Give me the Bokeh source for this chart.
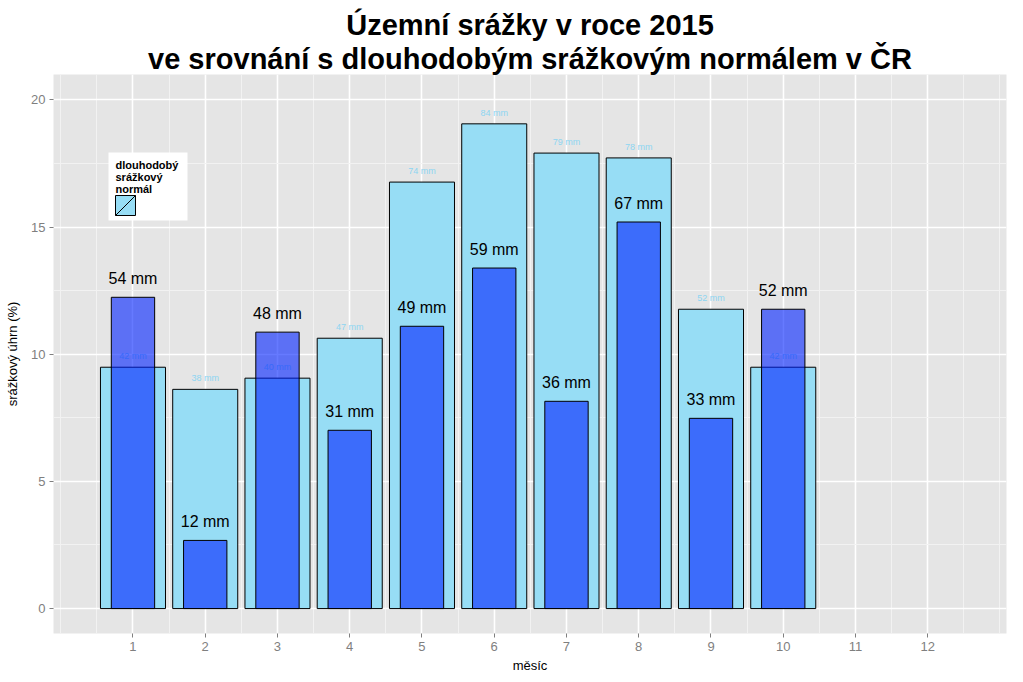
from bokeh.plotting import figure
from bokeh.models import ColumnDataSource, Range1d, FixedTicker, Title
from bokeh.core.properties import value
from bokeh.embed import file_html
from bokeh.resources import INLINE

# ---- data ----
months = [1, 2, 3, 4, 5, 6, 7, 8, 9, 10]
normal_pct = [9.49, 8.62, 9.06, 10.63, 16.77, 19.06, 17.91, 17.72, 11.77, 9.49]
normal_lbl = ["42 mm", "38 mm", "40 mm", "47 mm", "74 mm", "84 mm", "79 mm", "78 mm", "52 mm", "42 mm"]
y2015_pct = [12.24, 2.68, 10.87, 7.01, 11.10, 13.39, 8.15, 15.20, 7.48, 11.77]
y2015_lbl = ["54 mm", "12 mm", "48 mm", "31 mm", "49 mm", "59 mm", "36 mm", "67 mm", "33 mm", "52 mm"]
x_ticks = list(range(1, 13))
y_ticks = [0, 5, 10, 15, 20]
legend_title = ["dlouhodobý", "srážkový", "normál"]
title_lines = ["Územní srážky v roce 2015",
               "ve srovnání s dlouhodobým srážkovým normálem v ČR"]

FONT = "Liberation Sans"
LIGHT = "#97DDF5"
DARK = "#0022FF"

XR = (-0.1, 13.09)
YR = (-0.98, 21.0)
W, H = 1023, 682
BL, BR, BT, BB = 53, 17, 74, 49
FW, FH = W - BL - BR, H - BT - BB


def dx(px):  # screen px -> data x (for legend placement only)
    return XR[0] + (px - BL) / FW * (XR[1] - XR[0])


def dy(py):  # screen px -> data y (for legend placement only)
    return YR[0] + (BT + FH - py) / FH * (YR[1] - YR[0])


src_n = ColumnDataSource(dict(x=months, top=normal_pct, lbl=normal_lbl))
src_y = ColumnDataSource(dict(x=months, top=y2015_pct, lbl=y2015_lbl))

p = figure(width=W, height=H, output_backend="svg", toolbar_location=None,
           x_range=Range1d(*XR), y_range=Range1d(*YR),
           min_border_left=BL, min_border_right=BR, min_border_top=BT, min_border_bottom=BB)
p.title = None
p.outline_line_color = None
p.background_fill_color = "#E5E5E5"
p.border_fill_color = "white"

# grids
minor_x = [0] + [m + 0.5 for m in range(0, 13)] + [13]
p.xgrid.ticker = FixedTicker(ticks=x_ticks, minor_ticks=minor_x)
p.ygrid.ticker = FixedTicker(ticks=y_ticks, minor_ticks=[2.5, 7.5, 12.5, 17.5])
for g in (p.xgrid, p.ygrid):
    g.grid_line_color = "white"
    g.grid_line_width = 1.6
    g.minor_grid_line_color = "#F2F2F2"
    g.minor_grid_line_width = 1

# axes
p.xaxis.ticker = FixedTicker(ticks=x_ticks)
p.yaxis.ticker = FixedTicker(ticks=y_ticks)
for ax in (p.xaxis, p.yaxis):
    ax.axis_line_color = None
    ax.major_tick_line_color = "#7F7F7F"
    ax.major_tick_out = 4
    ax.major_tick_in = 0
    ax.minor_tick_line_color = None
    ax.major_label_text_color = "#7F7F7F"
    ax.major_label_text_font = FONT
    ax.major_label_text_font_size = "13px"
    ax.axis_label_text_font = FONT
    ax.axis_label_text_font_size = "13px"
    ax.axis_label_text_font_style = "normal"
    ax.axis_label_text_color = "black"
p.xaxis.axis_label = "měsíc"
p.yaxis.axis_label = "srážkový úhrn (%)"
p.xaxis.major_label_standoff = 4
p.xaxis.axis_label_standoff = 4
p.yaxis.major_label_standoff = 4
p.yaxis.axis_label_standoff = 8

# bars
p.vbar(x="x", top="top", bottom=0, width=0.9, source=src_n,
       fill_color=LIGHT, line_color="black", line_width=1)
p.text(x="x", y="top", text="lbl", source=src_n, y_offset=-11,
       text_align="center", text_baseline="middle", text_color="#8DD5F2",
       text_font=value(FONT), text_font_size="9px")
p.vbar(x="x", top="top", bottom=0, width=0.6, source=src_y,
       fill_color=DARK, fill_alpha=0.6, line_color="black", line_width=1)
p.text(x="x", y="top", text="lbl", source=src_y, y_offset=-19,
       text_align="center", text_baseline="middle", text_color="black",
       text_font=value(FONT), text_font_size="16px")

# legend (drawn manually, ggplot style)
p.quad(left=[dx(108)], right=[dx(187)], top=[dy(152)], bottom=[dy(220)],
       fill_color="white", line_color=None)
p.text(x=[dx(115)] * 3, y=[dy(164), dy(176), dy(188)], text=legend_title,
       text_align="left", text_baseline="alphabetic", text_color="black",
       text_font=value(FONT), text_font_style="bold", text_font_size="11px")
p.quad(left=[dx(115)], right=[dx(135)], top=[dy(195)], bottom=[dy(215)],
       fill_color=LIGHT, line_color="black", line_width=1)
p.segment(x0=[dx(115)], y0=[dy(215)], x1=[dx(135)], y1=[dy(195)],
          line_color="black", line_width=1)

# title: two centred lines (first added sits next to the frame)
for line in reversed(title_lines):
    p.add_layout(Title(text=line, align="center", text_font=FONT, text_font_size="29px",
                       text_font_style="bold", text_color="black", standoff=0), "above")

open("out.html", "w").write(file_html(p, INLINE))
